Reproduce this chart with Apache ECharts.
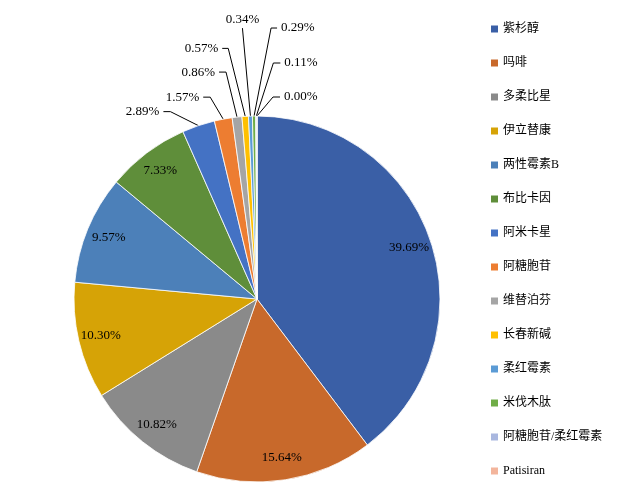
<!DOCTYPE html>
<html><head><meta charset="utf-8">
<script src="https://cdn.jsdelivr.net/npm/echarts@6/dist/echarts.min.js"></script>
<style>html,body{margin:0;padding:0;background:#fff}#c{width:626px;height:498px}</style>
</head><body><div id="c"></div>
<script>
// ---- data ----
const categories = ['紫杉醇','吗啡','多柔比星','伊立替康','两性霉素B','布比卡因','阿米卡星','阿糖胞苷','维替泊芬','长春新碱','柔红霉素','米伐木肽','阿糖胞苷/柔红霉素','Patisiran'];
const shares = [39.69, 15.64, 10.82, 10.30, 9.57, 7.33, 2.89, 1.57, 0.86, 0.57, 0.34, 0.29, 0.11, 0.00];

// ---- styles ----
const colors = ['#3A5FA6','#C8692B','#8A8A8A','#D6A306','#4C80B9','#5F8E3A','#4472C4','#ED7D31','#A5A5A5','#FFC000','#5B9BD5','#70AD47','#A9B7DF','#F3B59C'];
const insideCount = 6; // first slices carry their label inside the ring
// leader geometry for outside labels: [elbow dx, elbow dy, horizontal run]
const leader = {6:[-28,-14,-7], 7:[-13,-22,-7], 8:[-11,-45,-7], 9:[-17,-68,-6], 10:[-8,-88,0], 11:[17,-88,6], 12:[17,-53,7], 13:[16,-19,7]};
const CENTER = [257, 299], R = 183;
const serif = 'Liberation Serif, Times New Roman, serif';
const fmt = p => Number(p.value).toFixed(2) + '%';

const chart = echarts.init(document.getElementById('c'), null, {renderer: 'canvas'});
chart.setOption({
  animation: false,
  backgroundColor: '#fff',
  legend: {
    orient: 'vertical', left: 491, top: 22, padding: 0,
    icon: 'rect', itemWidth: 7, itemHeight: 7, itemGap: 20,
    itemStyle: {borderWidth: 0},
    data: categories,
    textStyle: {fontSize: 12, color: '#000', lineHeight: 14, fontFamily: 'Liberation Serif, Noto Sans CJK SC'}
  },
  series: [
    {
      type: 'pie', center: CENTER, radius: [0, R], startAngle: 90, clockwise: true,
      avoidLabelOverlap: false,
      emphasis: {disabled: true},
      itemStyle: {borderColor: '#fff', borderWidth: 0.8},
      label: {position: 'outside', formatter: fmt, fontSize: 13, color: '#000', fontFamily: serif},
      labelLine: {length: 10, length2: 7, lineStyle: {color: '#000', width: 1}},
      labelLayout: function (p) {
        const g = leader[p.dataIndex];
        if (!g || !p.labelLinePoints) return {};
        const a = p.labelLinePoints[0];
        const e = [a[0] + g[0], a[1] + g[1]];
        const end = [e[0] + g[2], e[1]];
        if (g[2] === 0) {
          return {x: end[0], y: end[1] - 2, align: 'center', verticalAlign: 'bottom', labelLinePoints: [a, e, end]};
        }
        const side = g[2] < 0 ? -1 : 1;
        return {x: end[0] + side * 4, y: end[1], align: side < 0 ? 'right' : 'left', verticalAlign: 'middle', labelLinePoints: [a, e, end]};
      },
      data: categories.map((n, i) => ({
        name: n, value: shares[i],
        itemStyle: {color: colors[i]},
        label: {show: i >= insideCount},
        labelLine: {show: i >= insideCount}
      }))
    },
    {
      type: 'pie', center: CENTER, radius: [R * 0.72, R], startAngle: 90, clockwise: true,
      silent: true, emphasis: {disabled: true},
      itemStyle: {color: 'rgba(0,0,0,0)', borderWidth: 0},
      label: {position: 'inside', formatter: fmt, fontSize: 13, color: '#000', fontFamily: serif},
      labelLine: {show: false},
      data: categories.map((n, i) => ({
        name: n, value: shares[i],
        label: {show: i < insideCount}
      }))
    }
  ]
});
</script></body></html>
